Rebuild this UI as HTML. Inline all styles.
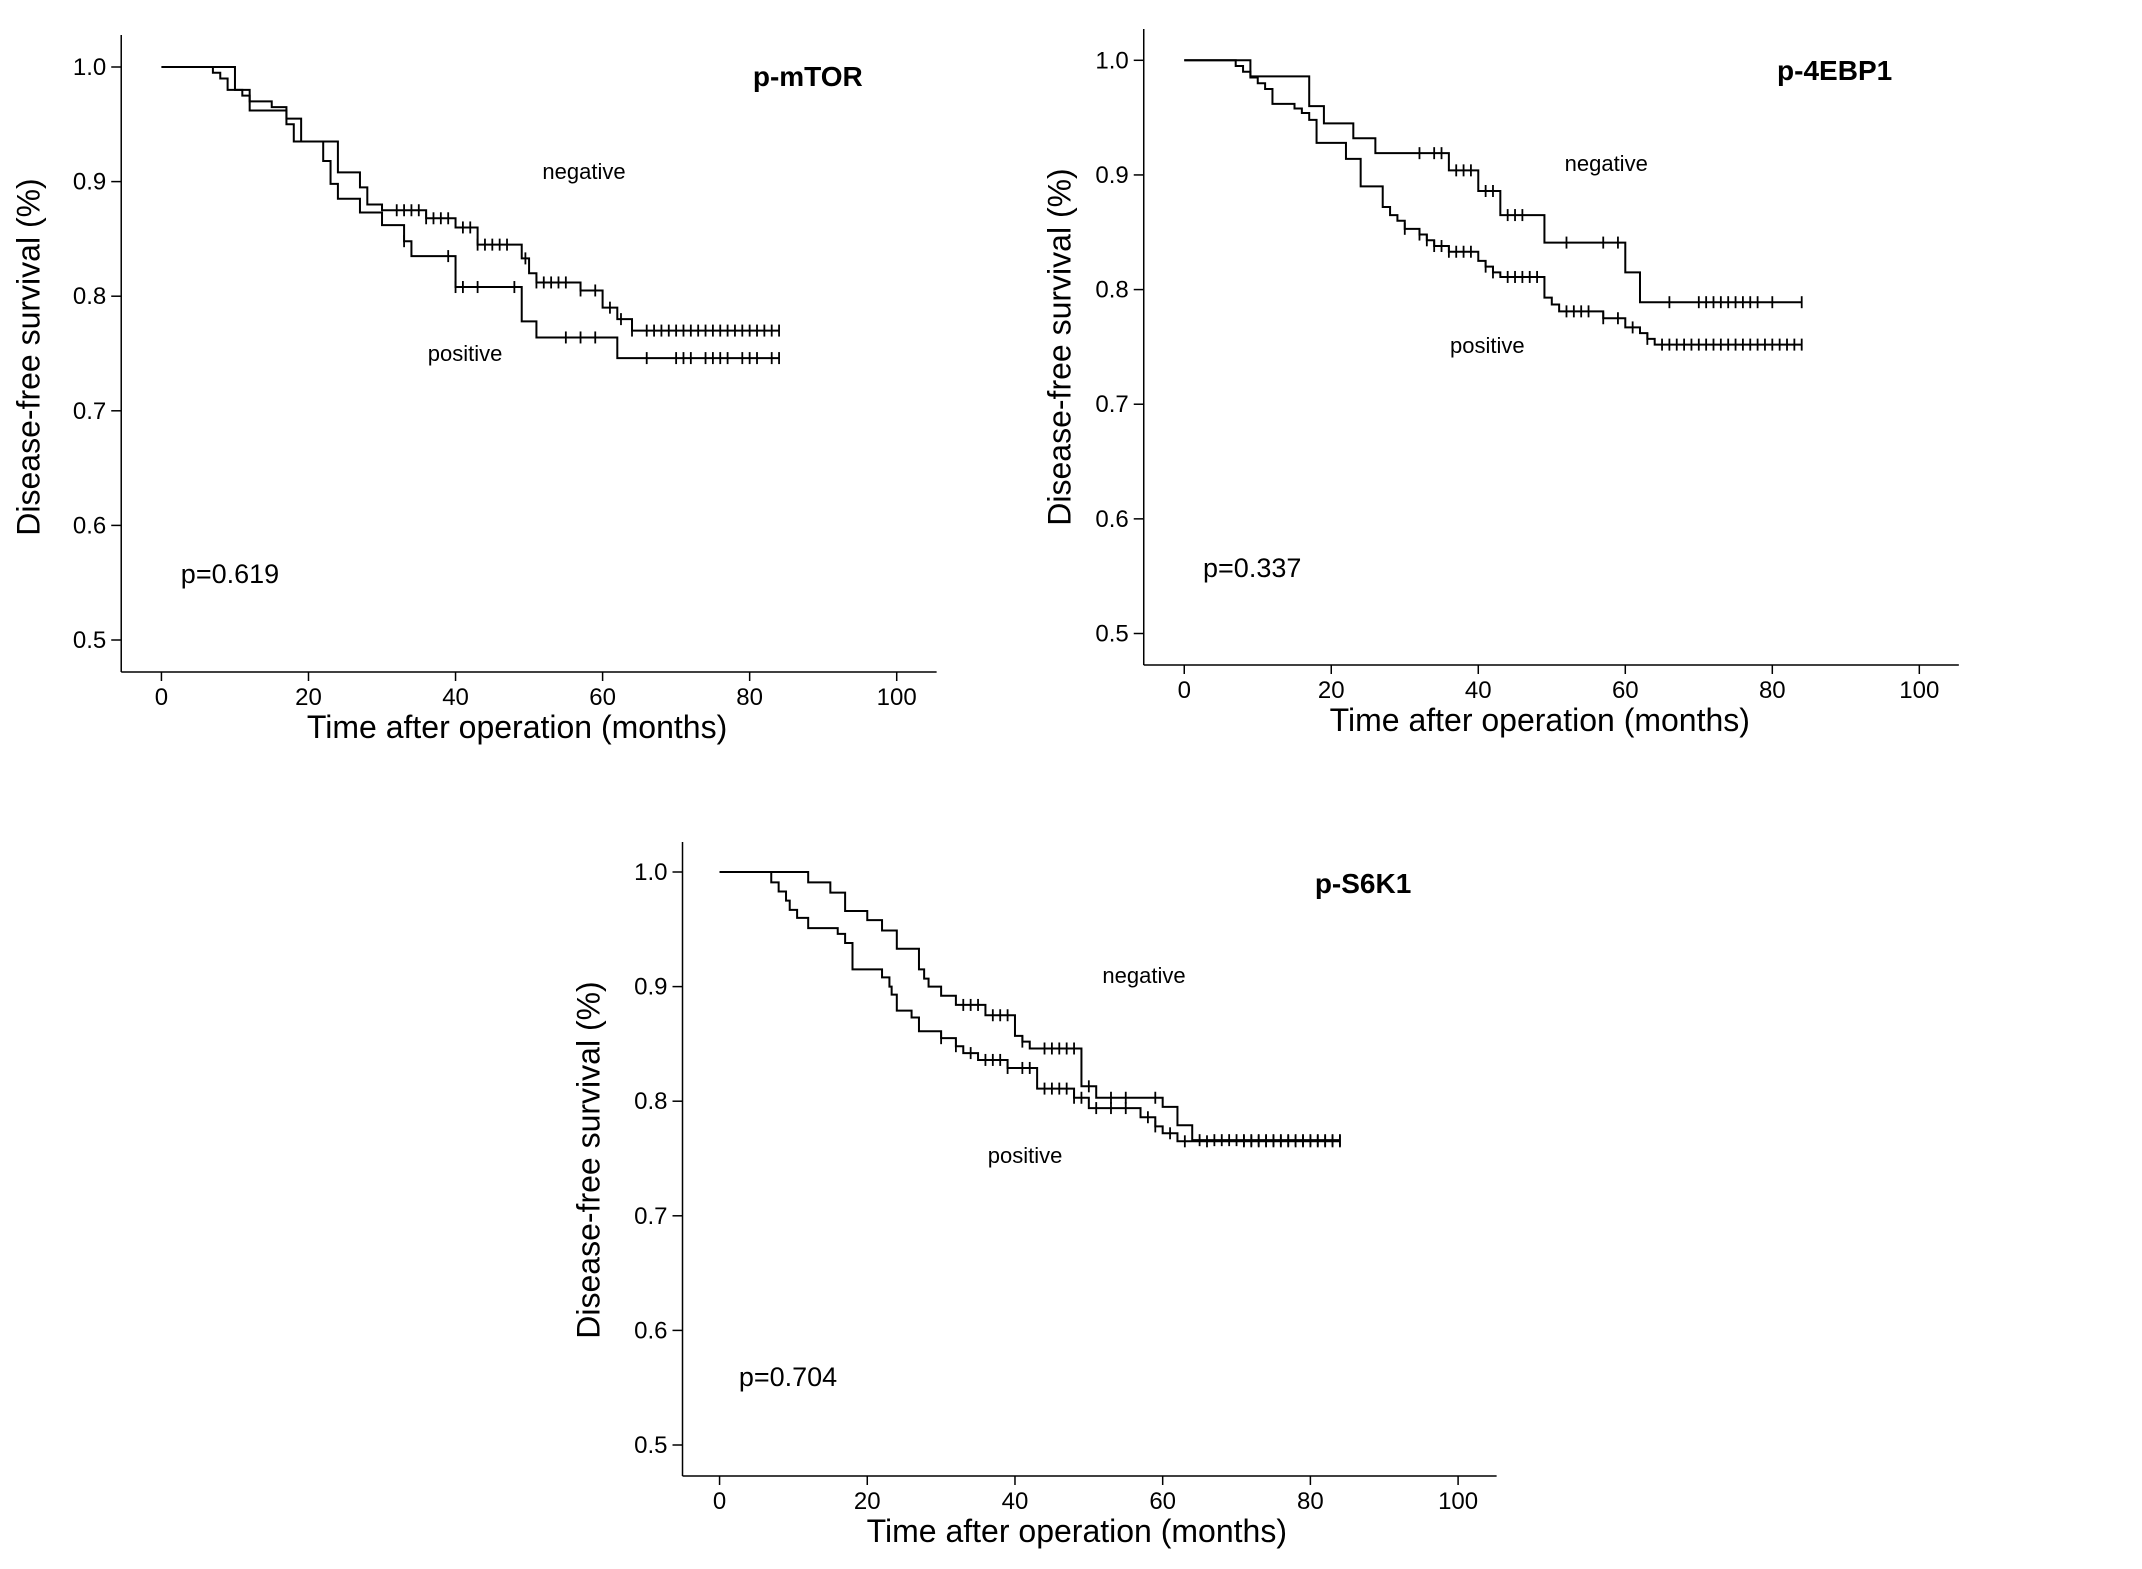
<!DOCTYPE html>
<html><head><meta charset="utf-8"><style>
html,body{margin:0;padding:0;background:#fff}
svg{display:block}
text{font-family:"Liberation Sans",Arial,sans-serif;fill:#000}
</style></head><body>
<svg id="fig" width="2142" height="1569" viewBox="0 0 2142 1569" xmlns="http://www.w3.org/2000/svg"></svg>
<script>
// ---- Data: p-mTOR ----
const mtorNegT=[0,10,12,15,17,19,24,27,28,30,36,40,43,49,50,51,57,60,62,64];
const mtorNegS=[1,0.98,0.97,0.965,0.955,0.935,0.908,0.895,0.88,0.875,0.868,0.86,0.845,0.833,0.82,0.812,0.805,0.79,0.78,0.77];
const mtorNegC=[32,33,34,35,36,37,38,39,41,42,43,44,45,46,47,49.5,51,52,53,54,55,57,59,61,62.5,64,66,67,68,69,70,71,72,73,74,75,76,77,78,79,80,81,82,83,84];
const mtorPosT=[0,7,8,9,11,12,17,18,22,23,24,27,30,33,34,40,49,51,62];
const mtorPosS=[1,0.995,0.99,0.98,0.975,0.962,0.95,0.935,0.918,0.898,0.885,0.873,0.862,0.848,0.835,0.808,0.778,0.764,0.746];
const mtorPosC=[33,39,40,41,43,48,55,57,59,66,70,71,72,74,75,76,77,79,80,81,83,84];
// ---- Data: p-4EBP1 ----
const ebpNegT=[0,9,17,19,23,26,36,40,43,49,60,62];
const ebpNegS=[1,0.986,0.96,0.945,0.932,0.919,0.904,0.886,0.865,0.841,0.815,0.789];
const ebpNegC=[32,34,35,37,38,39,41,42,44,45,46,52,57,59,66,70,71,72,73,74,75,76,77,78,80,84];
const ebpPosT=[0,7,8,9,10,11,12,15,16,17,18,22,24,27,28,29,30,32,33,34,36,40,41,42,43,49,50,51,57,60,62,63,64];
const ebpPosS=[1,0.995,0.99,0.985,0.98,0.975,0.962,0.958,0.954,0.948,0.928,0.914,0.89,0.872,0.865,0.86,0.853,0.848,0.843,0.838,0.833,0.825,0.82,0.815,0.811,0.793,0.787,0.781,0.775,0.767,0.762,0.757,0.752];
const ebpPosC=[30,32,33,34,35,36,37,38,39,41,42,44,45,46,47,48,52,53,54,55,57,59,61,63,65,66,67,68,69,70,71,72,73,74,75,76,77,78,79,80,81,82,83,84];
// ---- Data: p-S6K1 ----
const s6kNegT=[0,12,15,17,20,22,24,27,27.7,28.3,30,32,36,40,41,42,49,51,60,62,64];
const s6kNegS=[1,0.991,0.982,0.966,0.958,0.949,0.933,0.915,0.907,0.9,0.892,0.884,0.875,0.857,0.852,0.846,0.813,0.803,0.795,0.779,0.766];
const s6kNegC=[33,34,35,37,38,39,41,44,45,46,47,48,50,53,55,59,65,67,68,69,70,71,72,73,74,75,76,77,78,79,80,81,82,83,84];
const s6kPosT=[0,7,8,9,9.5,10.5,12,16,17,18,22,23,23.3,24,26,27,30,32,33,35,39,43,48,50,57,59,60,62];
const s6kPosS=[1,0.991,0.983,0.975,0.967,0.96,0.951,0.946,0.938,0.915,0.908,0.9,0.893,0.879,0.873,0.861,0.855,0.848,0.842,0.836,0.829,0.811,0.803,0.794,0.786,0.778,0.772,0.765];
const s6kPosC=[30,32,34,36,37,38,39,41,42,44,45,46,47,48,49,51,53,55,58,59,61,63,66,71,72,73,74,75,76,77,78,79,80,81,82,83,84];
const xTicks=[0,20,40,60,80,100];
const yTicks=[1.0,0.9,0.8,0.7,0.6,0.5];

const NS="http://www.w3.org/2000/svg";
const svg=document.getElementById('fig');
function mk(tag,attrs,parent){const e=document.createElementNS(NS,tag);for(const k in attrs)e.setAttribute(k,attrs[k]);parent.appendChild(e);return e;}

const K=0.988;
function S3(o,v){return o+(v-o)*K;}
const panels=[
 {key:'p-mtor',o:0,title:'p-mTOR',ax:122.7,ay:672,top:35,right:948,x0:163.4,x100:907.6,y1:67,y05:640,
  tt:[762,76],neg:[549,171],pos:[433,353],p:['p=0.619',183,573],yt:[32,357],
  nT:mtorNegT,nS:mtorNegS,nC:mtorNegC,pT:mtorPosT,pS:mtorPosS,pC:mtorPosC},
 {key:'p-4ebp1',o:1040,title:'p-4EBP1',ax:1145,ay:665,top:29,right:1970,x0:1186,x100:1930,y1:60.3,y05:633.5,
  tt:[1786,70],neg:[1571,163],pos:[1455,345],p:['p=0.337',1205,567],yt:[1063,347],
  nT:ebpNegT,nS:ebpNegS,nC:ebpNegC,pT:ebpPosT,pS:ebpPosS,pC:ebpPosC},
 {key:'p-s6k1',o:560,title:'p-S6K1',ax:684,ay:1476,top:842,right:1508,x0:721.5,x100:1469,y1:872,y05:1445,
  tt:[1324,883],neg:[1109,975],pos:[993,1155],p:['p=0.704',741,1376],yt:[592,1160],
  nT:s6kNegT,nS:s6kNegS,nC:s6kNegC,pT:s6kPosT,pS:s6kPosS,pC:s6kPosC}
];

panels.forEach(P=>{
  const o=P.o;
  ['ax','right','x0','x100'].forEach(k=>P[k]=S3(o,P[k]));
  P.tt[0]=S3(o,P.tt[0]);P.neg[0]=S3(o,P.neg[0]);P.pos[0]=S3(o,P.pos[0]);P.p[1]=S3(o,P.p[1]);P.yt[0]=S3(o,P.yt[0]);
  const g=mk('g',{},svg);
  
  
  const X=v=>P.x0+(P.x100-P.x0)*v/100;
  const Y=v=>P.y1+(P.y05-P.y1)*(1-v)/0.5;
  const yax=mk('line',{x1:P.ax,y1:P.top,x2:P.ax,y2:P.ay,stroke:'#000','stroke-width':1.5},g);
  
  
  const xax=mk('line',{x1:P.ax,y1:P.ay,x2:P.right,y2:P.ay,stroke:'#000','stroke-width':1.5},g);
  
  
  xTicks.forEach(t=>{
    mk('line',{x1:X(t),y1:P.ay,x2:X(t),y2:P.ay+9,stroke:'#000','stroke-width':1.5},g);
    const tx=mk('text',{x:X(t),y:P.ay+33,'font-size':24,'text-anchor':'middle'},g);
    tx.textContent=t;
    
    
  });
  yTicks.forEach(t=>{
    mk('line',{x1:P.ax-10,y1:Y(t),x2:P.ax,y2:Y(t),stroke:'#000','stroke-width':1.5},g);
    const tx=mk('text',{x:P.ax-15,y:Y(t)+8,'font-size':24,'text-anchor':'end'},g);
    tx.textContent=t.toFixed(1);
    
    
  });
  const xt=mk('text',{x:(X(0)+X(100))/2-12,y:P.ay+66,'font-size':32,'text-anchor':'middle'},g);
  xt.textContent='Time after operation (months)';
  
  
  const yt=mk('text',{x:0,y:0,'font-size':32,'text-anchor':'middle',transform:`translate(${P.yt[0]+8},${P.yt[1]}) rotate(-90)`},g);
  yt.textContent='Disease-free survival (%)';
  
  
  const ti=mk('text',{x:P.tt[0],y:P.tt[1]+10,'font-size':28,'font-weight':'bold'},g);
  ti.textContent=P.title;
  
  
  const ng=mk('text',{x:P.neg[0],y:P.neg[1]+8,'font-size':22},g);
  ng.textContent='negative';
  
  
  const ps=mk('text',{x:P.pos[0],y:P.pos[1]+8,'font-size':22},g);
  ps.textContent='positive';
  
  
  const pv=mk('text',{x:P.p[1],y:P.p[2]+10,'font-size':27},g);
  pv.textContent=P.p[0];
  
  
  [['negative',P.nT,P.nS,P.nC],['positive',P.pT,P.pS,P.pC]].forEach(([nm,T,S,C])=>{
    let d=`M${X(T[0])},${Y(S[0])}`;
    for(let i=1;i<T.length;i++){d+=` H${X(T[i])} V${Y(S[i])}`;}
    d+=` H${X(84)}`;
    const path=mk('path',{d:d,fill:'none',stroke:'#000','stroke-width':2},g);
    
    
    const sAt=t=>{let s=S[0];for(let i=0;i<T.length;i++){if(T[i]<=t)s=S[i];}return s;};
    C.forEach(c=>{
      const m=mk('line',{x1:X(c),y1:Y(sAt(c))-6,x2:X(c),y2:Y(sAt(c))+6,stroke:'#000','stroke-width':1.8},g);
      
      
    });
  });
});
</script>
</body></html>
